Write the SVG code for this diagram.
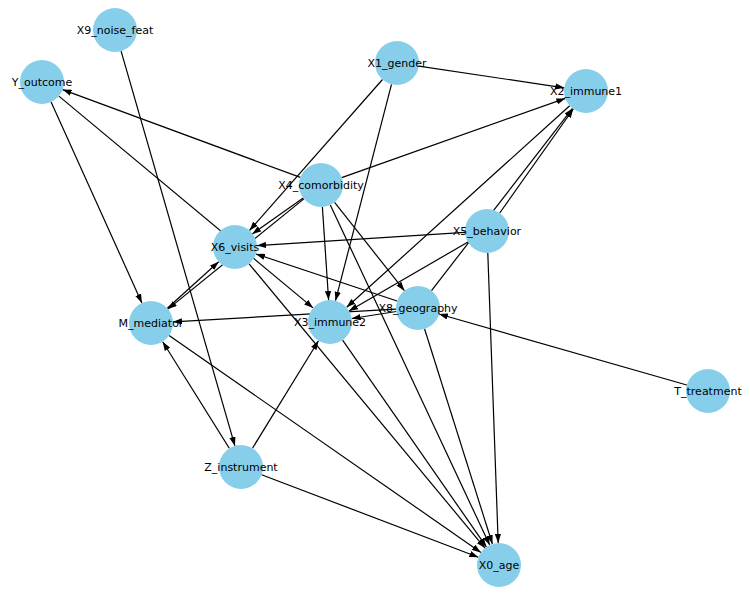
<svg xmlns="http://www.w3.org/2000/svg" width="750" height="593" viewBox="0 0 750 593">
<style>
.e{stroke:#000;stroke-width:1.2;fill:none;marker-end:url(#ah)}
.n circle{fill:#87CEEB}
.n text{font-family:"DejaVu Sans","Liberation Sans",sans-serif;font-size:11px;fill:#000;text-anchor:middle;dominant-baseline:central}
</style>
<defs>
<marker id="ah" viewBox="0 0 10 7" refX="10" refY="3.5" markerWidth="9" markerHeight="6.3" markerUnits="userSpaceOnUse" orient="auto">
<path d="M0,0 L10,3.5 L0,7 z" fill="#000"/>
</marker>
</defs>
<rect width="750" height="593" fill="#fff"/>
<g id="edges">
<line class="e" x1="418.8" y1="66.2" x2="564.2" y2="87.8"/>
<line class="e" x1="382.5" y1="79.5" x2="249.5" y2="230.5"/>
<line class="e" x1="391.5" y1="84.3" x2="335.5" y2="300.7"/>
<line class="e" x1="300.4" y1="177.4" x2="62.6" y2="89.6"/>
<line class="e" x1="341.7" y1="177.6" x2="565.3" y2="98.4"/>
<line class="e" x1="303.2" y1="197.9" x2="252.2" y2="234.1"/>
<line class="e" x1="303.9" y1="198.9" x2="167.9" y2="309.1"/>
<line class="e" x1="322.4" y1="207.0" x2="328.6" y2="300.0"/>
<line class="e" x1="334.6" y1="202.3" x2="404.4" y2="290.7"/>
<line class="e" x1="330.3" y1="204.9" x2="489.7" y2="545.1"/>
<line class="e" x1="499.7" y1="213.0" x2="573.3" y2="109.0"/>
<line class="e" x1="465.0" y1="232.4" x2="257.0" y2="245.6"/>
<line class="e" x1="468.0" y1="242.0" x2="349.0" y2="311.0"/>
<line class="e" x1="487.8" y1="253.0" x2="498.2" y2="543.0"/>
<line class="e" x1="431.5" y1="290.6" x2="572.5" y2="108.4"/>
<line class="e" x1="397.1" y1="301.0" x2="255.9" y2="254.0"/>
<line class="e" x1="396.3" y1="311.5" x2="351.7" y2="318.5"/>
<line class="e" x1="396.0" y1="309.2" x2="173.0" y2="321.8"/>
<line class="e" x1="424.6" y1="329.0" x2="492.4" y2="544.0"/>
<line class="e" x1="569.7" y1="105.7" x2="346.7" y2="307.3"/>
<line class="e" x1="51.1" y1="102.0" x2="141.9" y2="303.0"/>
<line class="e" x1="58.9" y1="96.1" x2="313.1" y2="307.9"/>
<line class="e" x1="167.3" y1="308.2" x2="218.7" y2="261.8"/>
<line class="e" x1="169.1" y1="335.6" x2="480.9" y2="552.4"/>
<line class="e" x1="249.1" y1="263.9" x2="485.0" y2="548.1"/>
<line class="e" x1="342.6" y1="340.1" x2="486.4" y2="546.9"/>
<line class="e" x1="229.3" y1="448.3" x2="162.7" y2="341.7"/>
<line class="e" x1="252.5" y1="448.2" x2="318.5" y2="340.8"/>
<line class="e" x1="261.6" y1="474.8" x2="478.4" y2="557.2"/>
<line class="e" x1="121.1" y1="51.1" x2="234.9" y2="445.9"/>
<line class="e" x1="686.8" y1="385.0" x2="438.9" y2="314.0"/>
</g>
<g id="X9_noise_feat" class="n"><circle cx="115" cy="30" r="22"/><text x="115" y="30">X9_noise_feat</text></g>
<g id="Y_outcome" class="n"><circle cx="42" cy="82" r="22"/><text x="42" y="82">Y_outcome</text></g>
<g id="X1_gender" class="n"><circle cx="397" cy="63" r="22"/><text x="397" y="63">X1_gender</text></g>
<g id="X2_immune1" class="n"><circle cx="586" cy="91" r="22"/><text x="586" y="91">X2_immune1</text></g>
<g id="X4_comorbidity" class="n"><circle cx="321" cy="185" r="22"/><text x="321" y="185">X4_comorbidity</text></g>
<g id="X6_visits" class="n"><circle cx="235" cy="247" r="22"/><text x="235" y="247">X6_visits</text></g>
<g id="X5_behavior" class="n"><circle cx="487" cy="231" r="22"/><text x="487" y="231">X5_behavior</text></g>
<g id="M_mediator" class="n"><circle cx="151" cy="323" r="22"/><text x="151" y="323">M_mediator</text></g>
<g id="X3_immune2" class="n"><circle cx="330" cy="322" r="22"/><text x="330" y="322">X3_immune2</text></g>
<g id="X8_geography" class="n"><circle cx="418" cy="308" r="22"/><text x="418" y="308">X8_geography</text></g>
<g id="T_treatment" class="n"><circle cx="708" cy="391" r="22"/><text x="708" y="391">T_treatment</text></g>
<g id="Z_instrument" class="n"><circle cx="241" cy="467" r="22"/><text x="241" y="467">Z_instrument</text></g>
<g id="X0_age" class="n"><circle cx="499" cy="565" r="22"/><text x="499" y="565">X0_age</text></g>
</svg>
